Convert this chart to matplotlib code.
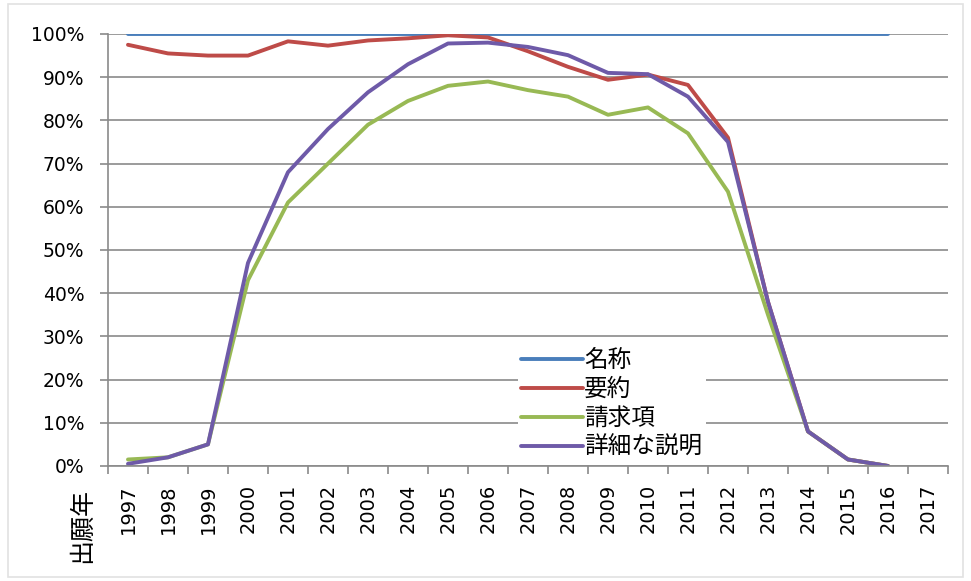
import matplotlib
matplotlib.use("Agg")
import matplotlib.pyplot as plt
from matplotlib.ticker import FixedLocator, PercentFormatter
from matplotlib.patches import Rectangle

plt.rcParams['font.family'] = ['Noto Sans CJK JP', 'DejaVu Sans']

years = [str(y) for y in range(1997, 2018)]
series_names = ['名称', '要約', '請求項', '詳細な説明']
meisho = [100]*20
youyaku = [97.5, 95.5, 95, 95, 98.3, 97.3, 98.5, 99, 99.7, 99.2, 96, 92.4, 89.4, 90.6, 88.2, 76, 38, 8, 1.5, 0]
seikyu = [1.5, 2, 5, 43, 61, 70, 79, 84.5, 88, 89, 87, 85.5, 81.3, 83, 77, 63.5, 35, 8, 1.5, 0]
shousai = [0.5, 2, 5, 47, 68, 78, 86.5, 93, 97.8, 98, 97, 95.1, 91, 90.7, 85.5, 75, 38, 8, 1.5, 0]
colors = ['#4A7EBB', '#BE4B48', '#98B954', '#6E5AA8']

fig = plt.figure(figsize=(9.71, 5.81), dpi=100)
fig.patches.append(Rectangle((8/971, 4/581), 955/971, 573/581, transform=fig.transFigure,
                             fill=False, edgecolor='#e2e2e2', lw=1.2))
ax = fig.add_axes([0.1112, 0.198, 0.8651, 0.7435])

for vals, name, c in zip([meisho, youyaku, seikyu, shousai], series_names, colors):
    ax.plot(list(range(len(vals))), vals, color=c, lw=2.8, label=name, solid_capstyle='round')

ax.set_xlim(-0.5, len(years) - 0.5)
ax.set_ylim(0, 100)
ax.set_yticks(range(0, 101, 10))
ax.yaxis.set_major_formatter(PercentFormatter(decimals=0))
ax.grid(axis='y', color='#8a8a8a', lw=1.2)
ax.set_axisbelow(True)
ax.set_xticks(range(len(years)))
ax.set_xticklabels(years, rotation=90, fontsize=14, family='DejaVu Sans')
for t in ax.get_yticklabels():
    t.set_family('DejaVu Sans')
ax.xaxis.set_minor_locator(FixedLocator([i - 0.5 for i in range(len(years) + 1)]))
ax.tick_params(axis='x', which='major', length=0, pad=13)
ax.tick_params(axis='x', which='minor', length=6, color='#8a8a8a', width=1.2)
ax.tick_params(axis='y', length=6, color='#8a8a8a', width=1.2, labelsize=13.5, pad=11)
for s in ['top', 'right']:
    ax.spines[s].set_visible(False)
for s in ['left', 'bottom']:
    ax.spines[s].set_color('#8a8a8a')
    ax.spines[s].set_linewidth(1.2)

fig.text(0.0845, 0.031, '出願年', rotation=90, fontsize=18, ha='center', va='bottom')

leg = ax.legend(loc='lower left', bbox_to_anchor=(0.488, 0.008), frameon=True, fontsize=17,
                handlelength=2.6, handletextpad=0.05, labelspacing=0.25, borderpad=0.15,
                borderaxespad=0.0)
leg.get_frame().set_edgecolor('none')
leg.get_frame().set_facecolor('white')
leg.get_frame().set_alpha(1)
leg.get_frame().set_boxstyle('square', pad=0)

fig.savefig('out.png', dpi=100)
